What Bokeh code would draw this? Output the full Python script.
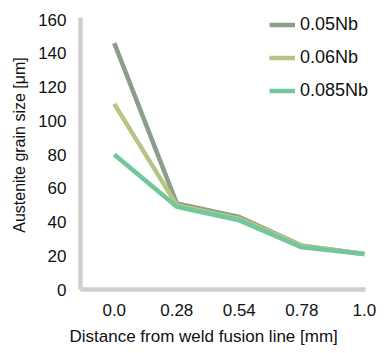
from bokeh.plotting import figure
from bokeh.models import Range1d, FixedTicker, Legend, LegendItem, Title
from bokeh.embed import file_html
from bokeh.resources import INLINE

distance_labels = ["0.0", "0.28", "0.54", "0.78", "1.0"]
series_names = ["0.05Nb", "0.06Nb", "0.085Nb"]
nb005 = [146, 51, 43, 26, 21]
nb006 = [110, 50, 42, 26, 21]
nb0085 = [80, 49, 41, 25, 21]
series_values = [nb005, nb006, nb0085]
colors = ["#8a9e8b", "#b5c584", "#74c79c"]
y_ticks = [0, 20, 40, 60, 80, 100, 120, 140, 160]
x_title = "Distance from weld fusion line [mm]"
y_title = "Austenite grain size [μm]"

FONT = "Liberation Sans"
TXT = "#111111"

# frame spans the full width/top so the legend is not clipped; axis lines use bounds
p = figure(width=386, height=353, output_backend="svg", toolbar_location=None,
           x_range=Range1d(-0.54, 4.355), y_range=Range1d(0, 171.26),
           min_border_left=79, min_border_right=0, min_border_top=0, min_border_bottom=64)
p.outline_line_color = None
p.grid.visible = False
p.background_fill_color = "white"
p.border_fill_color = "white"

xs = list(range(len(distance_labels)))
items = []
for name, vals, c in zip(series_names, series_values, colors):
    r = p.line(xs, vals, line_color=c, line_width=4.5)
    items.append(LegendItem(label=name, renderers=[r]))

for ax in (p.xaxis[0], p.yaxis[0]):
    ax.axis_line_color = "#cfcfcf"
    ax.axis_line_width = 4.5
    ax.major_tick_line_color = None
    ax.minor_tick_line_color = None
    ax.major_tick_out = 0
    ax.major_tick_in = 0
    ax.major_label_text_font = FONT
    ax.major_label_text_font_size = "17px"
    ax.major_label_text_color = TXT

p.xaxis.ticker = FixedTicker(ticks=xs)
p.xaxis.major_label_overrides = {i: l for i, l in enumerate(distance_labels)}
p.xaxis.major_label_standoff = 14
p.xaxis.bounds = (-0.54, 4.02)

p.yaxis.ticker = FixedTicker(ticks=y_ticks)
p.yaxis.major_label_standoff = 14
p.yaxis.bounds = (0, 161)

xt = Title(text=x_title, align="left", offset=-11, standoff=12, text_font=FONT,
           text_font_size="17px", text_font_style="normal", text_color=TXT)
p.add_layout(xt, "below")

yt = Title(text=y_title, align="center", offset=-9.5, standoff=16, text_font=FONT,
           text_font_size="16px", text_font_style="normal", text_color=TXT)
p.add_layout(yt, "left")

legend = Legend(items=items, location=(189, 186), border_line_color=None,
                background_fill_alpha=0, padding=0, margin=0, spacing=8,
                glyph_width=26, glyph_height=25, label_height=25,
                label_standoff=5, label_text_font=FONT, label_text_font_size="18px",
                label_text_color=TXT)
p.add_layout(legend, "center")

open("out.html", "w").write(file_html(p, INLINE))
